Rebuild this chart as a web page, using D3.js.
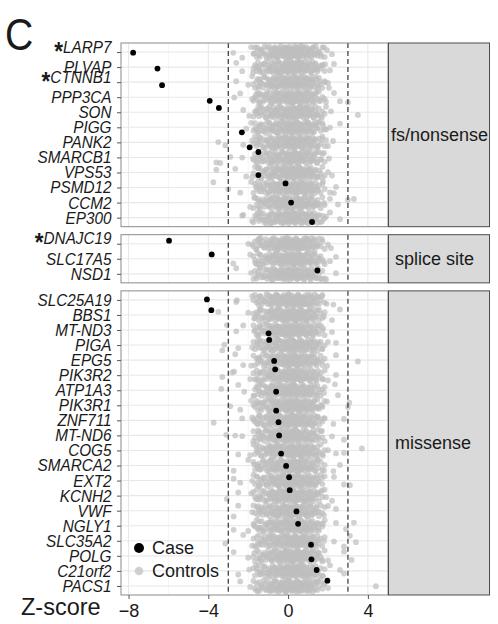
<!DOCTYPE html>
<html>
<head>
<meta charset="utf-8">
<script src="https://cdn.jsdelivr.net/npm/d3@7"></script>
<style>
  body { margin: 0; background: #fff; }
  svg text { font-family: "Liberation Sans", Arial, sans-serif; }
</style>
</head>
<body>
<div id="chart"></div>
<script>
// ---- data ----
const panels = ["fs/nonsense", "splice site", "missense"];

const genes1 = ["LARP7", "PLVAP", "CTNNB1", "PPP3CA", "SON", "PIGG", "PANK2", "SMARCB1", "VPS53", "PSMD12", "CCM2", "EP300"];
const genes2 = ["DNAJC19", "SLC17A5", "NSD1"];
const genes3 = ["SLC25A19", "BBS1", "MT-ND3", "PIGA", "EPG5", "PIK3R2", "ATP1A3", "PIK3R1", "ZNF711", "MT-ND6",
                "COG5", "SMARCA2", "EXT2", "KCNH2", "VWF", "NGLY1", "SLC35A2", "POLG", "C21orf2", "PACS1"];
const starred = ["LARP7", "CTNNB1", "DNAJC19"];

// case z-scores and their vertical jitter (in row units)
const caseZ1 = [-7.77, -6.55, -6.32, -3.93, -3.47, -2.32, -1.93, -1.49, -1.49, -0.13, 0.15, 1.2];
const caseJit1 = [0.04, 0.1, 0.2, 0.24, -0.29, 0.33, 0.33, -0.36, 0.17, -0.27, 0, 0.29];
const caseZ2 = [-5.97, -3.83, 1.47];
const caseJit2 = [-0.2, -0.29, -0.22];
const caseZ3 = [-4.07, -3.85, -0.98, -0.95, -0.7, -0.65, -0.6, -0.6, -0.48, -0.45,
                -0.35, -0.1, 0.05, 0.08, 0.42, 0.5, 1.15, 1.17, 1.43, 1.97];
const caseJit3 = [-0.03, -0.32, 0.22, -0.34, 0.05, -0.39, 0.1, 0.36, 0.12, 0,
                  0.21, 0.03, -0.22, -0.36, 0.05, -0.13, 0.26, 0.23, -0.06, -0.35];

// dense middle of the control cloud (same shape in every row)
const controlCore = [-1.42, -1.33, -1.27, -1.18, -1.12, -1.05, -0.98, -0.93, -0.87, -0.81, -0.77, -0.72, -0.66,
  -0.61, -0.57, -0.52, -0.47, -0.43, -0.38, -0.34, -0.29, -0.25, -0.21, -0.16, -0.12, -0.08, -0.04, 0.0,
  0.03, 0.07, 0.11, 0.15, 0.19, 0.23, 0.27, 0.31, 0.36, 0.4, 0.44, 0.49, 0.53, 0.58, 0.62, 0.67, 0.72,
  0.77, 0.83, 0.88, 0.94, 1.0, 1.06, 1.13, 1.19, 1.26, 1.34, 1.43, -0.55, -0.1, 0.25, 0.6, -0.85, 0.95,
  -1.74, -1.66, -1.58, -1.51, -1.46, -1.38, -1.22, -1.08, -0.95, -0.83, -0.69, -0.59, -0.49, -0.41, -0.31,
  -0.23, -0.14, -0.06, 0.01, 0.09, 0.17, 0.21, 0.29, 0.34, 0.38, 0.46, 0.51, 0.56, 0.65, 0.7, 0.79, 0.86,
  0.91, 1.03, 1.1, 1.16, 1.23, 1.3, 1.38, 1.47, 1.55, 1.63, 1.72, 1.83];
const jitterOffsets = [0.31, -0.12, 0.05, -0.37, 0.22, -0.28, 0.14, 0.38, -0.06, -0.21, 0.27, 0.02, -0.33, 0.18,
  -0.15, 0.35, -0.25, 0.09, -0.39, 0.24, -0.02, 0.12, -0.3, 0.33, -0.09, 0.2, -0.18, 0.07, 0.37, -0.35,
  0.16, -0.24, 0.29, -0.04, 0.1, -0.13, 0.26, -0.31, 0.01, 0.34, -0.19];

// edges and outliers of the control cloud, per gene
const tails1 = [
  [-2.75, -2.3, -1.85, -1.7, -1.55, 1.5, 1.65, 1.8, 1.95, 2.2],
  [-2.6, -2.3, -1.75, -1.6, -1.45, 1.45, 1.7, 1.85, 2.1, 2.3],
  [-2.6, -2.0, -1.8, -1.5, 1.5, 1.6, 1.85, 2.0, 2.05],
  [-2.7, -2.4, -1.8, -1.6, -1.45, 1.55, 1.9, 2.3, 2.6, 3.0],
  [-2.25, -1.95, -1.6, -1.5, 1.45, 1.7, 1.9, 2.15, 3.5],
  [-2.1, -1.85, -1.65, -1.5, 1.5, 1.75, 1.9, 2.1, 2.6],
  [-3.5, -3.15, -2.25, -1.8, -1.55, 1.5, 1.7, 1.9, 2.0, 2.25],
  [-3.6, -3.4, -2.9, -2.3, -1.75, -1.55, 1.45, 1.65, 1.8, 2.05],
  [-3.6, -2.65, -2.1, -1.8, -1.5, 1.5, 1.7, 2.0, 2.2],
  [-3.75, -3.0, -2.4, -1.85, -1.6, 1.5, 1.75, 2.1, 2.3, 2.4],
  [-1.9, -1.7, -1.5, 1.5, 1.8, 2.1, 2.5, 3.0, 3.3],
  [-2.3, -2.25, -1.8, -1.55, 1.45, 1.7, 1.9, 2.1, 2.6]
];
const tails2 = [
  [-2.0, -1.8, -1.6, -1.45, 1.5, 1.7, 2.0, 2.15],
  [-2.75, -1.9, -1.65, -1.5, 1.55, 1.8, 2.1, 2.4],
  [-2.6, -1.85, -1.6, 1.5, 1.7, 1.9, 2.4]
];
const tails3 = [
  [-2.6, -2.57, -1.8, -1.5, 1.5, 1.7, 1.93, 2.27],
  [-3.5, -2.0, -1.7, -1.5, 1.55, 1.8, 2.2, 2.6],
  [-3.07, -2.6, -2.25, -1.7, -1.5, 1.5, 1.75, 2.2],
  [-3.3, -3.2, -2.5, -1.8, -1.55, 1.5, 1.7, 2.0, 2.4],
  [-2.65, -2.25, -1.85, -1.5, 1.45, 1.7, 1.95, 2.4, 3.5],
  [-3.3, -2.8, -2.7, -1.9, -1.6, 1.5, 1.75, 2.0, 2.4],
  [-3.35, -2.5, -2.2, -1.7, -1.5, 1.55, 1.8, 2.35, 2.5],
  [-2.9, -2.4, -1.85, -1.6, 1.5, 1.7, 1.95, 3.0, 3.07],
  [-3.73, -2.3, -1.8, -1.55, 1.5, 1.8, 2.27, 2.8],
  [-3.1, -2.65, -2.3, -1.75, -1.5, 1.5, 1.7, 2.2, 2.8],
  [-2.5, -1.9, -1.6, 1.5, 1.75, 2.0, 2.4, 2.8, 3.7],
  [-2.73, -2.0, -1.7, -1.5, 1.5, 1.8, 2.27, 2.6],
  [-2.73, -2.4, -1.8, -1.55, 1.45, 1.7, 2.3, 2.8, 3.1],
  [-3.07, -2.5, -1.85, -1.6, 1.5, 1.7, 1.9, 2.2],
  [-2.73, -2.5, -1.8, -1.5, 1.55, 1.8, 2.0, 2.4],
  [-2.73, -2.0, -1.7, -1.5, 1.5, 1.75, 2.4, 2.9, 3.3],
  [-3.15, -2.25, -1.8, -1.55, 1.5, 1.8, 2.3, 2.8, 3.1, 3.4],
  [-2.73, -2.0, -1.7, 1.5, 1.7, 2.0, 2.8, 3.18],
  [-2.5, -1.95, -1.6, 1.5, 1.75, 2.1, 2.6, 2.8],
  [-2.4, -1.9, -1.6, 1.5, 1.8, 2.0, 4.4]
];

const xTicks = [-8, -4, 0, 4];
const xMinor = [-6, -2, 2];
const cutoffs = [-3, 3];

// ---- layout ----
const W = 498, H = 624;
const plotL = 121, plotR = 388, plotT = 43, plotB = 595, gap = 8;
const stripW = 102;

const svg = d3.select("#chart").append("svg")
    .attr("width", W)
    .attr("height", H);

const panelDefs = [
  { label: panels[0], genes: genes1, caseZ: caseZ1, caseJit: caseJit1, tails: tails1 },
  { label: panels[1], genes: genes2, caseZ: caseZ2, caseJit: caseJit2, tails: tails2 },
  { label: panels[2], genes: genes3, caseZ: caseZ3, caseJit: caseJit3, tails: tails3 }
];

const allZ = [].concat(caseZ1, caseZ2, caseZ3, controlCore, tails1.flat(), tails2.flat(), tails3.flat());
const ext = d3.extent(allZ);
const pad = (ext[1] - ext[0]) * 0.05;
const x = d3.scaleLinear().domain([ext[0] - pad, ext[1] + pad]).range([plotL, plotR]);

// panel heights proportional to number of rows (free space facets)
const unit = (plotB - plotT - gap * (panelDefs.length - 1)) /
    d3.sum(panelDefs, p => p.genes.length - 1 + 1.2);
let yTop = plotT;
panelDefs.forEach(p => {
  p.top = yTop;
  p.h = unit * (p.genes.length - 1 + 1.2);
  p.y = d3.scalePoint().domain(p.genes).range([p.top, p.top + p.h]).padding(0.6);
  yTop += p.h + gap;
});

const ctrlFill = "#bdbdbd";
let rowCount = 0;

panelDefs.forEach((p, pi) => {
  const g = svg.append("g").attr("class", "panel");

  g.append("rect")
      .attr("x", plotL).attr("y", p.top)
      .attr("width", plotR - plotL).attr("height", p.h)
      .attr("fill", "#fff");

  // grid
  g.selectAll(".minor").data(xMinor).enter().append("line")
      .attr("x1", d => x(d)).attr("x2", d => x(d))
      .attr("y1", p.top).attr("y2", p.top + p.h)
      .attr("stroke", "#f3f3f3").attr("stroke-width", 0.8);
  g.selectAll(".major").data(xTicks).enter().append("line")
      .attr("x1", d => x(d)).attr("x2", d => x(d))
      .attr("y1", p.top).attr("y2", p.top + p.h)
      .attr("stroke", "#e8e8e8").attr("stroke-width", 1.1);
  g.selectAll(".hgrid").data(p.genes).enter().append("line")
      .attr("x1", plotL).attr("x2", plotR)
      .attr("y1", d => p.y(d)).attr("y2", d => p.y(d))
      .attr("stroke", "#e8e8e8").attr("stroke-width", 1.1);

  // controls
  const step = p.y.step();
  const ctrl = [];
  p.genes.forEach((gene, gi) => {
    const r = rowCount + gi;
    controlCore.forEach((z, j) => {
      ctrl.push({ z: z, y: p.y(gene) + step * jitterOffsets[(j + r * 13) % jitterOffsets.length] });
    });
    p.tails[gi].forEach((z, k) => {
      ctrl.push({ z: z, y: p.y(gene) + step * jitterOffsets[(k * 5 + r * 3 + 2) % jitterOffsets.length] });
    });
  });
  rowCount += p.genes.length;

  g.selectAll(".ctrl").data(ctrl).enter().append("circle")
      .attr("cx", d => x(d.z)).attr("cy", d => d.y)
      .attr("r", 2.9)
      .attr("fill", ctrlFill).attr("fill-opacity", 0.7);

  // cutoffs
  g.selectAll(".cut").data(cutoffs).enter().append("line")
      .attr("x1", d => x(d)).attr("x2", d => x(d))
      .attr("y1", p.top).attr("y2", p.top + p.h)
      .attr("stroke", "#222").attr("stroke-width", 1.1)
      .attr("stroke-dasharray", "5,3");

  // cases
  g.selectAll(".case").data(p.genes).enter().append("circle")
      .attr("cx", (d, i) => x(p.caseZ[i]))
      .attr("cy", (d, i) => p.y(d) + step * p.caseJit[i])
      .attr("r", 2.9)
      .attr("fill", "#000");

  g.append("rect")
      .attr("x", plotL).attr("y", p.top)
      .attr("width", plotR - plotL).attr("height", p.h)
      .attr("fill", "none").attr("stroke", "#8a8a8a").attr("stroke-width", 1);

  // strip
  g.append("rect")
      .attr("x", plotR + 0.5).attr("y", p.top)
      .attr("width", stripW - 1).attr("height", p.h)
      .attr("fill", "#d9d9d9").attr("stroke", "#4d4d4d").attr("stroke-width", 1);
  const st = g.append("text")
      .attr("x", plotR + 7).attr("y", p.top + p.h / 2)
      .attr("dy", "0.35em")
      .attr("font-size", "18px").attr("fill", "#1a1a1a")
      .text(p.label);
  const tw = st.node().getComputedTextLength();
  if (plotR + 7 + tw > plotR + stripW - 2) st.attr("x", plotR + stripW - 2 - tw);

  // y axis
  const ya = svg.append("g")
      .attr("transform", `translate(${plotL},0)`)
      .call(d3.axisLeft(p.y).tickSize(4));
  ya.select(".domain").remove();
  ya.selectAll(".tick line").attr("stroke", "#555");
  const sx = 0.9;
  ya.selectAll(".tick text")
      .attr("x", -9.5 / sx)
      .attr("transform", `scale(${sx},1)`)
      .attr("font-size", "17px")
      .attr("font-style", "italic")
      .attr("fill", "#1a1a1a")
      .each(function(d) {
        if (starred.includes(d)) {
          const t = d3.select(this).text(null);
          t.append("tspan").attr("font-style", "normal").attr("font-weight", "bold")
              .attr("font-size", "25px").attr("dy", "7").text("*");
          t.append("tspan").attr("dy", "-7").text(d);
        }
      });
});

// x axis
const xa = svg.append("g")
    .attr("transform", `translate(0,${plotB})`)
    .call(d3.axisBottom(x).tickValues(xTicks).tickSize(4).tickPadding(5));
xa.select(".domain").remove();
xa.selectAll(".tick line").attr("stroke", "#555");
xa.selectAll(".tick text").attr("font-size", "18px").attr("fill", "#1a1a1a");

svg.append("text")
    .attr("x", 21).attr("y", 615)
    .attr("font-size", "23.5px").attr("fill", "#1a1a1a")
    .text("Z-score");

svg.append("text")
    .attr("transform", "translate(5,50) scale(0.87,1)")
    .attr("font-size", "45px").attr("fill", "#1a1a1a")
    .text("C");

// legend
const legend = svg.append("g").attr("transform", "translate(139,548)");
legend.append("circle").attr("cx", 0).attr("cy", 0).attr("r", 5).attr("fill", "#000");
legend.append("circle").attr("cx", 0).attr("cy", 23).attr("r", 4.3).attr("fill", ctrlFill).attr("fill-opacity", 0.7);
legend.append("text").attr("x", 13).attr("y", 0).attr("dy", "0.36em")
    .attr("font-size", "18px").attr("fill", "#1a1a1a").text("Case");
legend.append("text").attr("x", 13).attr("y", 23).attr("dy", "0.36em")
    .attr("font-size", "18px").attr("fill", "#1a1a1a").text("Controls");
</script>
</body>
</html>
